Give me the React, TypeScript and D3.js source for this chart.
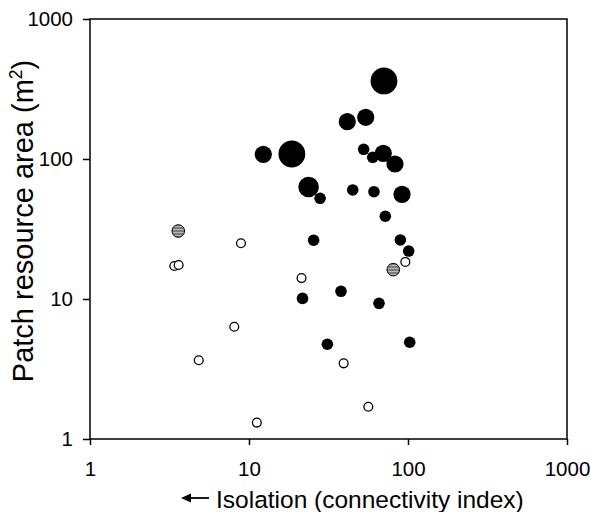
import React, { useEffect, useRef } from "react";
import * as d3 from "d3";

// Tick labels
const xTickValues = [1, 10, 100, 1000];
const yTickValues = [1, 10, 100, 1000];

// Filled (black) patches: connectivity index, resource area, size class
const blackX = [70.6, 41.5, 54.2, 12.3, 18.6, 52.6, 60, 69.9, 82.8, 23.7, 28, 44.9, 61.1, 91.7, 72, 25.5, 89.5, 101, 21.7, 37.9, 65.7, 31.1, 102.5];
const blackY = [361, 184.7, 198.6, 108, 108.6, 117.3, 102.8, 109.8, 92.1, 63.1, 52.4, 60.1, 58.4, 55.9, 39, 26.3, 26.4, 22, 10.1, 11.35, 9.31, 4.75, 4.91];
const blackSize = [4, 2, 2, 2, 4, 1, 1, 2, 2, 3, 1, 1, 1, 2, 1, 1, 1, 1, 1, 1, 1, 1, 1];

// Striped (grey) patches
const greyX = [3.59, 80.8];
const greyY = [30.6, 16.2];

// Open patches
const openX = [8.9, 3.39, 3.61, 21.4, 96.2, 8.08, 4.83, 39.4, 11.2, 56.3];
const openY = [25, 17.2, 17.5, 14.1, 18.4, 6.34, 3.65, 3.47, 1.31, 1.7];

const W = 591;
const H = 512;
const FONT = "'Liberation Sans', Arial, Helvetica, sans-serif";

export default function App() {
  const ref = useRef<SVGSVGElement | null>(null);

  useEffect(() => {
    const svg = d3.select(ref.current);
    svg.selectAll("*").remove();

    const x = d3.scaleLog().domain([1, 1000]).range([90, 567]);
    const y = d3.scaleLog().domain([1, 1000]).range([439, 19]);
    const r = d3.scaleOrdinal<number, number>().domain([1, 2, 3, 4]).range([5.8, 8.6, 10.3, 13.4]);

    const defs = svg.append("defs");
    const pat = defs
      .append("pattern")
      .attr("id", "stripes")
      .attr("patternUnits", "userSpaceOnUse")
      .attr("width", 6)
      .attr("height", 3);
    pat.append("rect").attr("width", 6).attr("height", 3).attr("fill", "#7a7a7a");
    pat.append("rect").attr("y", 1).attr("width", 6).attr("height", 1).attr("fill", "#b8b8b8");

    // Frame
    svg
      .append("rect")
      .attr("x", 90)
      .attr("y", 19)
      .attr("width", 567 - 90)
      .attr("height", 439 - 19)
      .attr("fill", "none")
      .attr("stroke", "#000")
      .attr("stroke-width", 1.5);

    // Axes
    const xAxis = d3
      .axisBottom(x)
      .tickValues(xTickValues)
      .tickFormat((d) => String(d))
      .tickSize(6)
      .tickPadding(16);
    const gx = svg.append("g").attr("transform", "translate(0,439)").call(xAxis);
    gx.select(".domain").remove();
    gx.selectAll("line").attr("stroke", "#000").attr("stroke-width", 1.5);
    gx.selectAll("text").attr("font-family", FONT).attr("font-size", 20.5).attr("fill", "#000");

    const yAxis = d3
      .axisLeft(y)
      .tickValues(yTickValues)
      .tickFormat((d) => String(d))
      .tickSize(7)
      .tickPadding(10);
    const gy = svg.append("g").attr("transform", "translate(90,0)").call(yAxis);
    gy.select(".domain").remove();
    gy.selectAll("line").attr("stroke", "#000").attr("stroke-width", 1.5);
    gy.selectAll("text").attr("font-family", FONT).attr("font-size", 20.5).attr("fill", "#000");

    // Open circles
    svg
      .append("g")
      .selectAll("circle")
      .data(openX.map((v, i) => [v, openY[i]]))
      .join("circle")
      .attr("cx", (d) => x(d[0]))
      .attr("cy", (d) => y(d[1]))
      .attr("r", 4.4)
      .attr("fill", "#fff")
      .attr("stroke", "#000")
      .attr("stroke-width", 1.3);

    // Black circles
    svg
      .append("g")
      .selectAll("circle")
      .data(blackX.map((v, i) => [v, blackY[i], blackSize[i]]))
      .join("circle")
      .attr("cx", (d) => x(d[0]))
      .attr("cy", (d) => y(d[1]))
      .attr("r", (d) => r(d[2]))
      .attr("fill", "#000");

    // Grey striped circles
    svg
      .append("g")
      .selectAll("circle")
      .data(greyX.map((v, i) => [v, greyY[i]]))
      .join("circle")
      .attr("cx", (d) => x(d[0]))
      .attr("cy", (d) => y(d[1]))
      .attr("r", 6.3)
      .attr("fill", "url(#stripes)")
      .attr("stroke", "#000")
      .attr("stroke-width", 1);

    // X title with arrow
    svg
      .append("path")
      .attr("d", "M181,498 L191,493.5 L191,502.5 Z")
      .attr("fill", "#000");
    svg
      .append("line")
      .attr("x1", 189)
      .attr("x2", 209)
      .attr("y1", 498)
      .attr("y2", 498)
      .attr("stroke", "#000")
      .attr("stroke-width", 1.8);
    svg
      .append("text")
      .attr("x", 216)
      .attr("y", 508)
      .attr("font-family", FONT)
      .attr("font-size", 24.5)
      .attr("fill", "#000")
      .text("Isolation (connectivity index)");

    // Y title
    const yt = svg
      .append("text")
      .attr("transform", "translate(33,221) rotate(-90)")
      .attr("text-anchor", "middle")
      .attr("font-family", FONT)
      .attr("font-size", 29)
      .attr("fill", "#000");
    yt.append("tspan").text("Patch resource area (m");
    yt.append("tspan").attr("font-size", 17.5).attr("dy", -11).text("2");
    yt.append("tspan").attr("dy", 11).text(")");
  }, []);

  return (
    <svg
      ref={ref}
      width={W}
      height={H}
      style={{ position: "absolute", left: 0, top: 0, background: "#fff" }}
    />
  );
}
